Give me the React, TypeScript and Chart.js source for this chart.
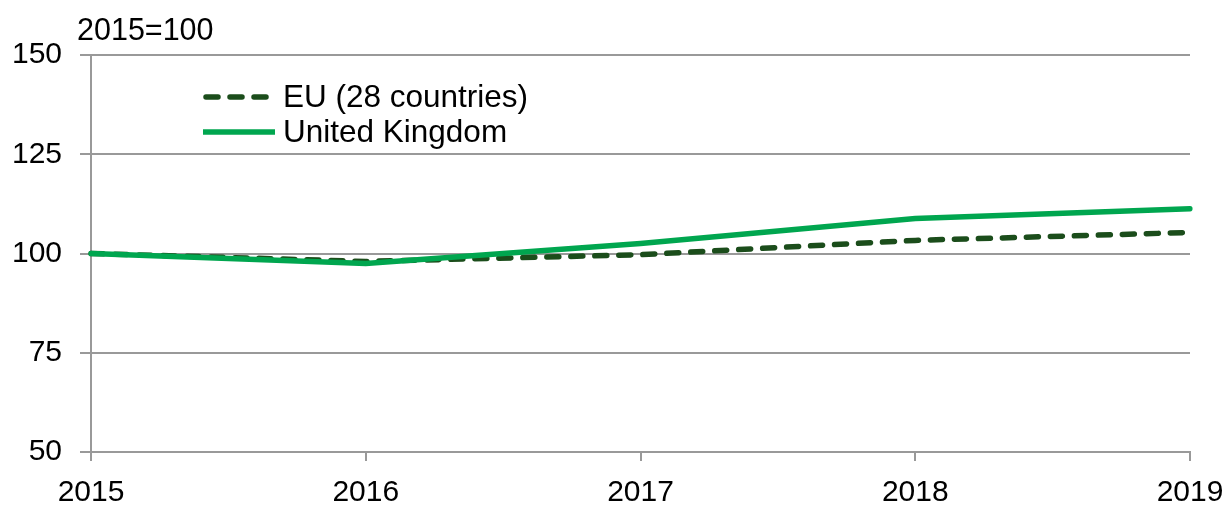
import React, { useEffect, useRef } from "react";
import { Chart, registerables } from "chart.js";

Chart.register(...registerables);

const categories = ["2015", "2016", "2017", "2018", "2019"];
const euValues = [100, 98.0, 99.7, 103.3, 105.3];
const ukValues = [100, 97.5, 102.5, 108.8, 111.3];
const seriesNames = ["EU (28 countries)", "United Kingdom"];
const unitLabel = "2015=100";
const yTicks = { min: 50, max: 150, step: 25 };

const EU_COLOR = "#1b4d1b";
const UK_COLOR = "#00a64f";
const GRID = "#999999";
const FONT = "'Liberation Sans', Arial, sans-serif";

const overlayPlugin = {
  id: "overlay",
  afterDraw(chart: any) {
    const ctx = chart.ctx;
    const area = chart.chartArea;
    ctx.save();
    ctx.fillStyle = "#000";
    ctx.font = `30.5px ${FONT}`;
    ctx.textBaseline = "alphabetic";
    ctx.textAlign = "left";
    ctx.fillText(unitLabel, 77, 40);

    // legend
    const lx = area.left + 112;
    const rows = [
      { y: area.top + 42, color: EU_COLOR, dash: [12, 12], name: seriesNames[0] },
      { y: area.top + 77, color: UK_COLOR, dash: [], name: seriesNames[1] },
    ];
    rows.forEach((r) => {
      ctx.beginPath();
      ctx.strokeStyle = r.color;
      ctx.lineWidth = 5.5;
      ctx.lineCap = r.dash.length ? "round" : "butt";
      ctx.setLineDash(r.dash);
      ctx.moveTo(lx + (r.dash.length ? 3 : 0), r.y);
      ctx.lineTo(lx + 72, r.y);
      ctx.stroke();
      ctx.setLineDash([]);
      ctx.fillStyle = "#000";
      ctx.font = `31.5px ${FONT}`;
      ctx.textBaseline = "middle";
      ctx.fillText(r.name, lx + 80, r.y + 1);
    });
    ctx.restore();
  },
};

export default function App() {
  const ref = useRef<HTMLCanvasElement>(null);
  useEffect(() => {
    document.body.style.margin = "0";
    const chart = new Chart(ref.current!, {
      type: "line",
      data: {
        labels: categories,
        datasets: [
          {
            label: seriesNames[0],
            data: euValues,
            borderColor: EU_COLOR,
            borderWidth: 5.5,
            borderDash: [12, 12],
            borderCapStyle: "round",
            pointRadius: 0,
            tension: 0,
            order: 1,
          },
          {
            label: seriesNames[1],
            data: ukValues,
            borderColor: UK_COLOR,
            borderWidth: 5.5,
            borderCapStyle: "round",
            pointRadius: 0,
            tension: 0,
            order: 0,
          },
        ],
      },
      options: {
        responsive: false,
        maintainAspectRatio: false,
        animation: false,
        layout: { padding: { top: 55, right: 38, left: 0, bottom: 0 } },
        plugins: { legend: { display: false }, tooltip: { enabled: false }, title: { display: false } },
        scales: {
          x: {
            type: "category",
            offset: false,
            grid: { drawOnChartArea: false, drawTicks: true, tickLength: 9, color: GRID, lineWidth: 2 },
            border: { color: GRID, width: 2 },
            ticks: { color: "#000", font: { family: FONT, size: 30 }, padding: 14, maxRotation: 0 },
            afterFit: (s: any) => {
              s.height = 53;
              s.paddingLeft = 0;
              s.paddingRight = 0;
            },
          },
          y: {
            min: yTicks.min,
            max: yTicks.max,
            ticks: { stepSize: yTicks.step, color: "#000", font: { family: FONT, size: 30 }, padding: 18 },
            grid: { color: GRID, lineWidth: 2, tickLength: 11, tickColor: GRID },
            border: { color: GRID, width: 2 },
            afterFit: (s: any) => {
              s.width = 91;
              s.paddingTop = 0;
              s.paddingBottom = 0;
            },
          },
        },
      },
      plugins: [overlayPlugin],
    });
    return () => chart.destroy();
  }, []);
  return (
    <div style={{ width: 1228, height: 505 }}>
      <canvas ref={ref} width={1228} height={505} />
    </div>
  );
}
